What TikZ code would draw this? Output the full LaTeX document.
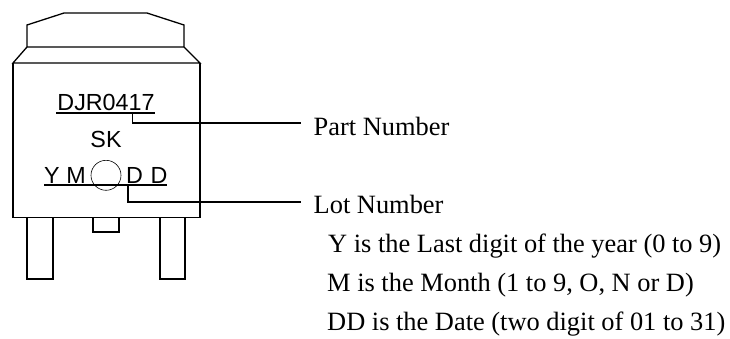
\documentclass[tikz,border=0pt]{standalone}
\usepackage{fontspec}
\setmainfont{Liberation Serif}
\newfontfamily\arialf{Liberation Sans}
\begin{document}
\begin{tikzpicture}[x=1pt,y=-1pt,
  pkg/.style={draw=black,line width=1.3pt,line join=miter},
  thinl/.style={draw=black,line width=1.1pt},
  mark text/.style={font=\arialf\fontsize{23.3}{23.3}\selectfont,inner sep=0pt,anchor=base},
  label text/.style={font=\fontsize{26.4}{26.4}\selectfont,inner sep=0pt,anchor=base west}]
\useasboundingbox (0,0) rectangle (730,338);
\fill[white] (0,0) rectangle (730,338);
\draw[pkg] (27,47) -- (27,25) -- (64,13) -- (147,13) -- (184,25) -- (184,47) -- cycle;
\draw[pkg] (27,47) -- (13,63) -- (200,63) -- (184,47);
\draw[pkg] (13,63) -- (13,217.5) -- (200,217.5) -- (200,63);
\draw[pkg] (27,217.5) -- (27,279) -- (53,279) -- (53,217.5);
\draw[pkg] (160,217.5) -- (160,279) -- (185,279) -- (185,217.5);
\draw[pkg] (93,217.5) -- (93,232) -- (119,232) -- (119,217.5);
\node[mark text] (pn) at (106,110) {DJR0417};
\node[mark text] (sk) at (106,147) {SK};
\node[mark text] (y) at (52,183) {Y};
\node[mark text] (m) at (76,183) {M};
\node[mark text] (d1) at (134.5,183) {D};
\node[mark text] (d2) at (159,183) {D};
\node[draw=black,line width=0.6pt,circle,minimum size=30pt,inner sep=0pt] (dot) at (106,175.3) {};
\coordinate (u1a) at (56,113);
\coordinate (u1b) at (155,113);
\coordinate (u2a) at (44,185);
\coordinate (u2b) at (167,185);
\draw[thinl] (u1a) -- (u1b);
\draw[thinl] (u2a) -- (u2b);
\coordinate (t1) at (132.3,113);
\coordinate (e1) at (301,123);
\coordinate (t2) at (128,185);
\coordinate (e2) at (301,202);
\draw[thinl] (t1) |- (e1);
\draw[thinl] (t2) |- (e2);
\node[label text] (l1) at (313.5,135) {Part Number};
\node[label text] (l2) at (313.5,213) {Lot Number};
\node[label text] (l3) at (328,252.7) {Y is the Last digit of the year (0 to 9)};
\node[label text] (l4) at (327,291.7) {M is the Month (1 to 9, O, N or D)};
\node[label text] (l5) at (327,330) {DD is the Date (two digit of 01 to 31)};
\end{tikzpicture}
\end{document}
